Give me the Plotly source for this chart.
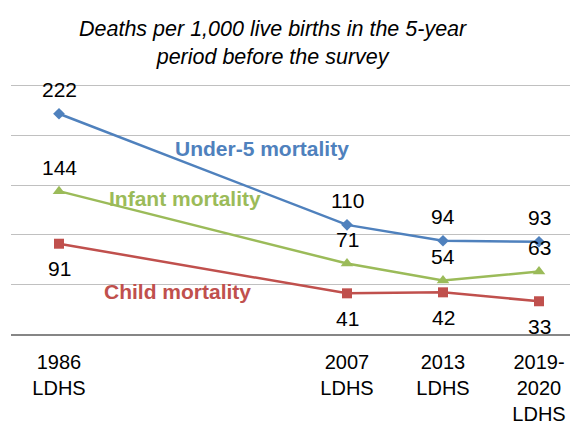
import plotly.graph_objects as go

categories = ["1986<br>LDHS", " ", "  ", "2007<br>LDHS", "2013<br>LDHS", "2019-<br>2020<br>LDHS"]
survey_cats = ["1986<br>LDHS", "2007<br>LDHS", "2013<br>LDHS", "2019-<br>2020<br>LDHS"]
under5 = [222, 110, 94, 93]
infant = [144, 71, 54, 63]
child = [91, 41, 42, 33]

FONT = "Liberation Sans, Arial, sans-serif"
BLUE = "#4F81BD"
GREEN = "#9BBB59"
RED = "#C0504D"

PW = 575  # plot area width in px
PH = 250  # plot area height in px (0..252)

fig = go.Figure()
fig.add_trace(go.Scatter(x=survey_cats, y=under5, mode="lines+markers",
                         line=dict(color=BLUE, width=2.5),
                         marker=dict(symbol="diamond", size=9, color=BLUE)))
fig.add_trace(go.Scatter(x=survey_cats, y=infant, mode="lines+markers",
                         line=dict(color=GREEN, width=2.5),
                         marker=dict(symbol="triangle-up", size=11, color=GREEN)))
fig.add_trace(go.Scatter(x=survey_cats, y=child, mode="lines+markers",
                         line=dict(color=RED, width=2.5),
                         marker=dict(symbol="square", size=10, color=RED)))

annotations = []
for vals, shift in [(under5, 24), (infant, 24), (child, -25)]:
    for c, v in zip(survey_cats, vals):
        annotations.append(dict(x=c, y=v, xref="x", yref="y", text=str(v), showarrow=False,
                                yshift=shift, yanchor="middle", xanchor="center",
                                font=dict(family=FONT, size=21, color="#000000")))

for txt, px, py, col in [("Under-5 mortality", 262, 148, BLUE),
                         ("Infant mortality", 185, 198, GREEN),
                         ("Child mortality", 177, 291, RED)]:
    annotations.append(dict(x=(px - 11) / PW, y=(334 - py) / PH, xref="paper", yref="paper",
                            text="<b>" + txt + "</b>", showarrow=False,
                            xanchor="center", yanchor="middle",
                            font=dict(family=FONT, size=21, color=col)))

annotations.append(dict(x=(273 - 11) / PW, y=(334 - 42.5) / PH, xref="paper", yref="paper",
                        text="<i>Deaths per 1,000 live births in the 5-year<br>period before the survey</i>",
                        showarrow=False, xanchor="center", yanchor="middle",
                        font=dict(family=FONT, size=21.5, color="#000000")))

fig.update_layout(
    width=578, height=426,
    margin=dict(l=3, r=0, t=76, b=100),
    paper_bgcolor="white", plot_bgcolor="white",
    showlegend=False,
    annotations=annotations,
    xaxis=dict(type="category", categoryorder="array", categoryarray=categories,
               range=[-0.5, -0.5 + PW / 96], showgrid=False, showline=True,
               linecolor="#868686", linewidth=1.5, ticks="", automargin=False,
               ticklabelstandoff=9,
               tickfont=dict(family=FONT, size=20, color="#000000"), zeroline=False),
    yaxis=dict(range=[0, 252], dtick=50, showgrid=True, gridcolor="#C0C0C0", gridwidth=1,
               showticklabels=False, zeroline=False, showline=False, automargin=False),
)

fig.write_html("out.html")
